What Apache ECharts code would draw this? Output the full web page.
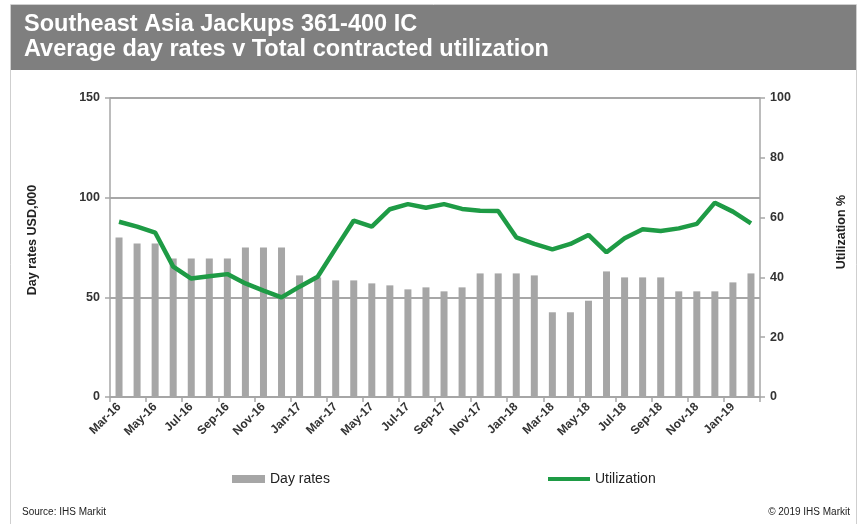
<!DOCTYPE html>
<html>
<head>
<meta charset="utf-8">
<script src="https://cdn.jsdelivr.net/npm/echarts@6/dist/echarts.min.js"></script>
<style>
  html, body { margin: 0; padding: 0; background: #fff; }
  #chart { width: 860px; height: 524px; }
</style>
</head>
<body>
<div id="chart"></div>
<script>
// Monthly categories, Mar-16 .. Feb-19
const months = [
  'Mar-16','Apr-16','May-16','Jun-16','Jul-16','Aug-16','Sep-16','Oct-16','Nov-16','Dec-16',
  'Jan-17','Feb-17','Mar-17','Apr-17','May-17','Jun-17','Jul-17','Aug-17','Sep-17','Oct-17',
  'Nov-17','Dec-17','Jan-18','Feb-18','Mar-18','Apr-18','May-18','Jun-18','Jul-18','Aug-18',
  'Sep-18','Oct-18','Nov-18','Dec-18','Jan-19','Feb-19'
];

// Average day rates, USD '000
const dayRates = [
  80, 77, 77, 69.5, 69.5, 69.5, 69.5, 75, 75, 75,
  61, 60, 58.5, 58.5, 57, 56, 54, 55, 53, 55,
  62, 62, 62, 61, 42.5, 42.5, 48.3, 63, 60, 60,
  60, 53, 53, 53, 57.5, 62
];

// Total contracted utilization, %
const utilization = [
  58.6, 57, 55, 43.6, 39.6, 40.4, 41.1, 38, 35.6, 33.3,
  36.9, 40.2, 49.7, 59, 57, 62.8, 64.5, 63.3, 64.5, 62.9,
  62.3, 62.2, 53.4, 51.2, 49.4, 51.2, 54.2, 48.4, 53.1, 56.1,
  55.5, 56.4, 57.9, 65, 62, 58.1
];

const leftTicks = { min: 0, max: 150, interval: 50 };
const rightTicks = { min: 0, max: 100, interval: 20 };

const chart = echarts.init(document.getElementById('chart'), null, { renderer: 'canvas' });

const FONT = 'Liberation Sans, Arial, sans-serif';
const AXIS_GREY = '#a6a6a6';
const BAR_GREY = '#a6a6a6';
const GREEN = '#1e9b45';

const legendText = { fontFamily: FONT, fontSize: 14, color: '#222' };

chart.setOption({
  backgroundColor: '#ffffff',
  animation: false,
  textStyle: { fontFamily: FONT },
  grid: { left: 110, right: 100, top: 98, bottom: 127 },
  legend: [
    {
      left: 232, top: 472, padding: 0,
      itemWidth: 33, itemHeight: 8,
      textStyle: legendText,
      data: [{ name: 'Day rates', icon: 'rect', itemStyle: { color: BAR_GREY } }]
    },
    {
      left: 548, top: 472, padding: 0,
      itemWidth: 42, itemHeight: 4,
      textStyle: legendText,
      data: [{ name: 'Utilization', icon: 'rect', itemStyle: { color: GREEN } }]
    }
  ],
  xAxis: {
    type: 'category',
    data: months,
    boundaryGap: true,
    axisLine: { lineStyle: { color: AXIS_GREY, width: 1.5 } },
    axisTick: { show: true, interval: 1, length: 5, lineStyle: { color: AXIS_GREY, width: 1.5 } },
    axisLabel: {
      interval: 1,
      rotate: 45,
      margin: 8,
      fontFamily: FONT,
      fontSize: 12,
      fontWeight: 'bold',
      color: '#333'
    }
  },
  yAxis: [
    {
      type: 'value',
      min: leftTicks.min,
      max: leftTicks.max,
      interval: leftTicks.interval,
      axisLine: { show: true, lineStyle: { color: AXIS_GREY, width: 1.5 } },
      axisTick: { show: true, length: 5, lineStyle: { color: AXIS_GREY, width: 1.5 } },
      axisLabel: { margin: 10, fontFamily: FONT, fontSize: 12.5, fontWeight: 'bold', color: '#333' },
      splitLine: { show: true, lineStyle: { color: '#8a8a8a', width: 1.5 } }
    },
    {
      type: 'value',
      min: rightTicks.min,
      max: rightTicks.max,
      interval: rightTicks.interval,
      position: 'right',
      axisLine: { show: true, lineStyle: { color: AXIS_GREY, width: 1.5 } },
      axisTick: { show: true, length: 5, lineStyle: { color: AXIS_GREY, width: 1.5 } },
      axisLabel: { margin: 10, fontFamily: FONT, fontSize: 12.5, fontWeight: 'bold', color: '#333' },
      splitLine: { show: false }
    }
  ],
  series: [
    {
      name: 'Day rates',
      type: 'bar',
      yAxisIndex: 0,
      data: dayRates,
      barWidth: 7,
      itemStyle: { color: BAR_GREY }
    },
    {
      name: 'Utilization',
      type: 'line',
      yAxisIndex: 1,
      data: utilization,
      symbol: 'none',
      smooth: false,
      lineStyle: { color: GREEN, width: 4.5 },
      itemStyle: { color: GREEN }
    }
  ],
  graphic: [
    // outer frame
    {
      type: 'rect', silent: true, z: -1,
      shape: { x: 10.5, y: 4.5, width: 846, height: 530 },
      style: { fill: 'none', stroke: '#cfcfcf', lineWidth: 1 }
    },
    // title band
    {
      type: 'rect', silent: true,
      shape: { x: 11, y: 5, width: 845, height: 65 },
      style: { fill: '#7f7f7f' }
    },
    {
      type: 'text', x: 24, y: 25,
      style: { text: 'Southeast Asia Jackups 361-400 IC', fill: '#ffffff', font: 'bold 23.5px ' + FONT, verticalAlign: 'middle' }
    },
    {
      type: 'text', x: 24, y: 50,
      style: { text: 'Average day rates v Total contracted utilization', fill: '#ffffff', font: 'bold 23.5px ' + FONT, verticalAlign: 'middle' }
    },
    // axis names
    {
      type: 'text', x: 33, y: 240, rotation: Math.PI / 2,
      style: { text: 'Day rates USD,000', fill: '#222', font: 'bold 12.5px ' + FONT, align: 'center', verticalAlign: 'middle' }
    },
    {
      type: 'text', x: 842, y: 232, rotation: Math.PI / 2,
      style: { text: 'Utilization %', fill: '#222', font: 'bold 12.5px ' + FONT, align: 'center', verticalAlign: 'middle' }
    },
    // footer
    {
      type: 'text', left: 22, top: 507,
      style: { text: 'Source: IHS Markit', fill: '#222', font: '10px ' + FONT }
    },
    {
      type: 'text', right: 10, top: 507,
      style: { text: '\u00a9 2019 IHS Markit', fill: '#222', font: '10px ' + FONT }
    }
  ]
});
</script>
</body>
</html>
